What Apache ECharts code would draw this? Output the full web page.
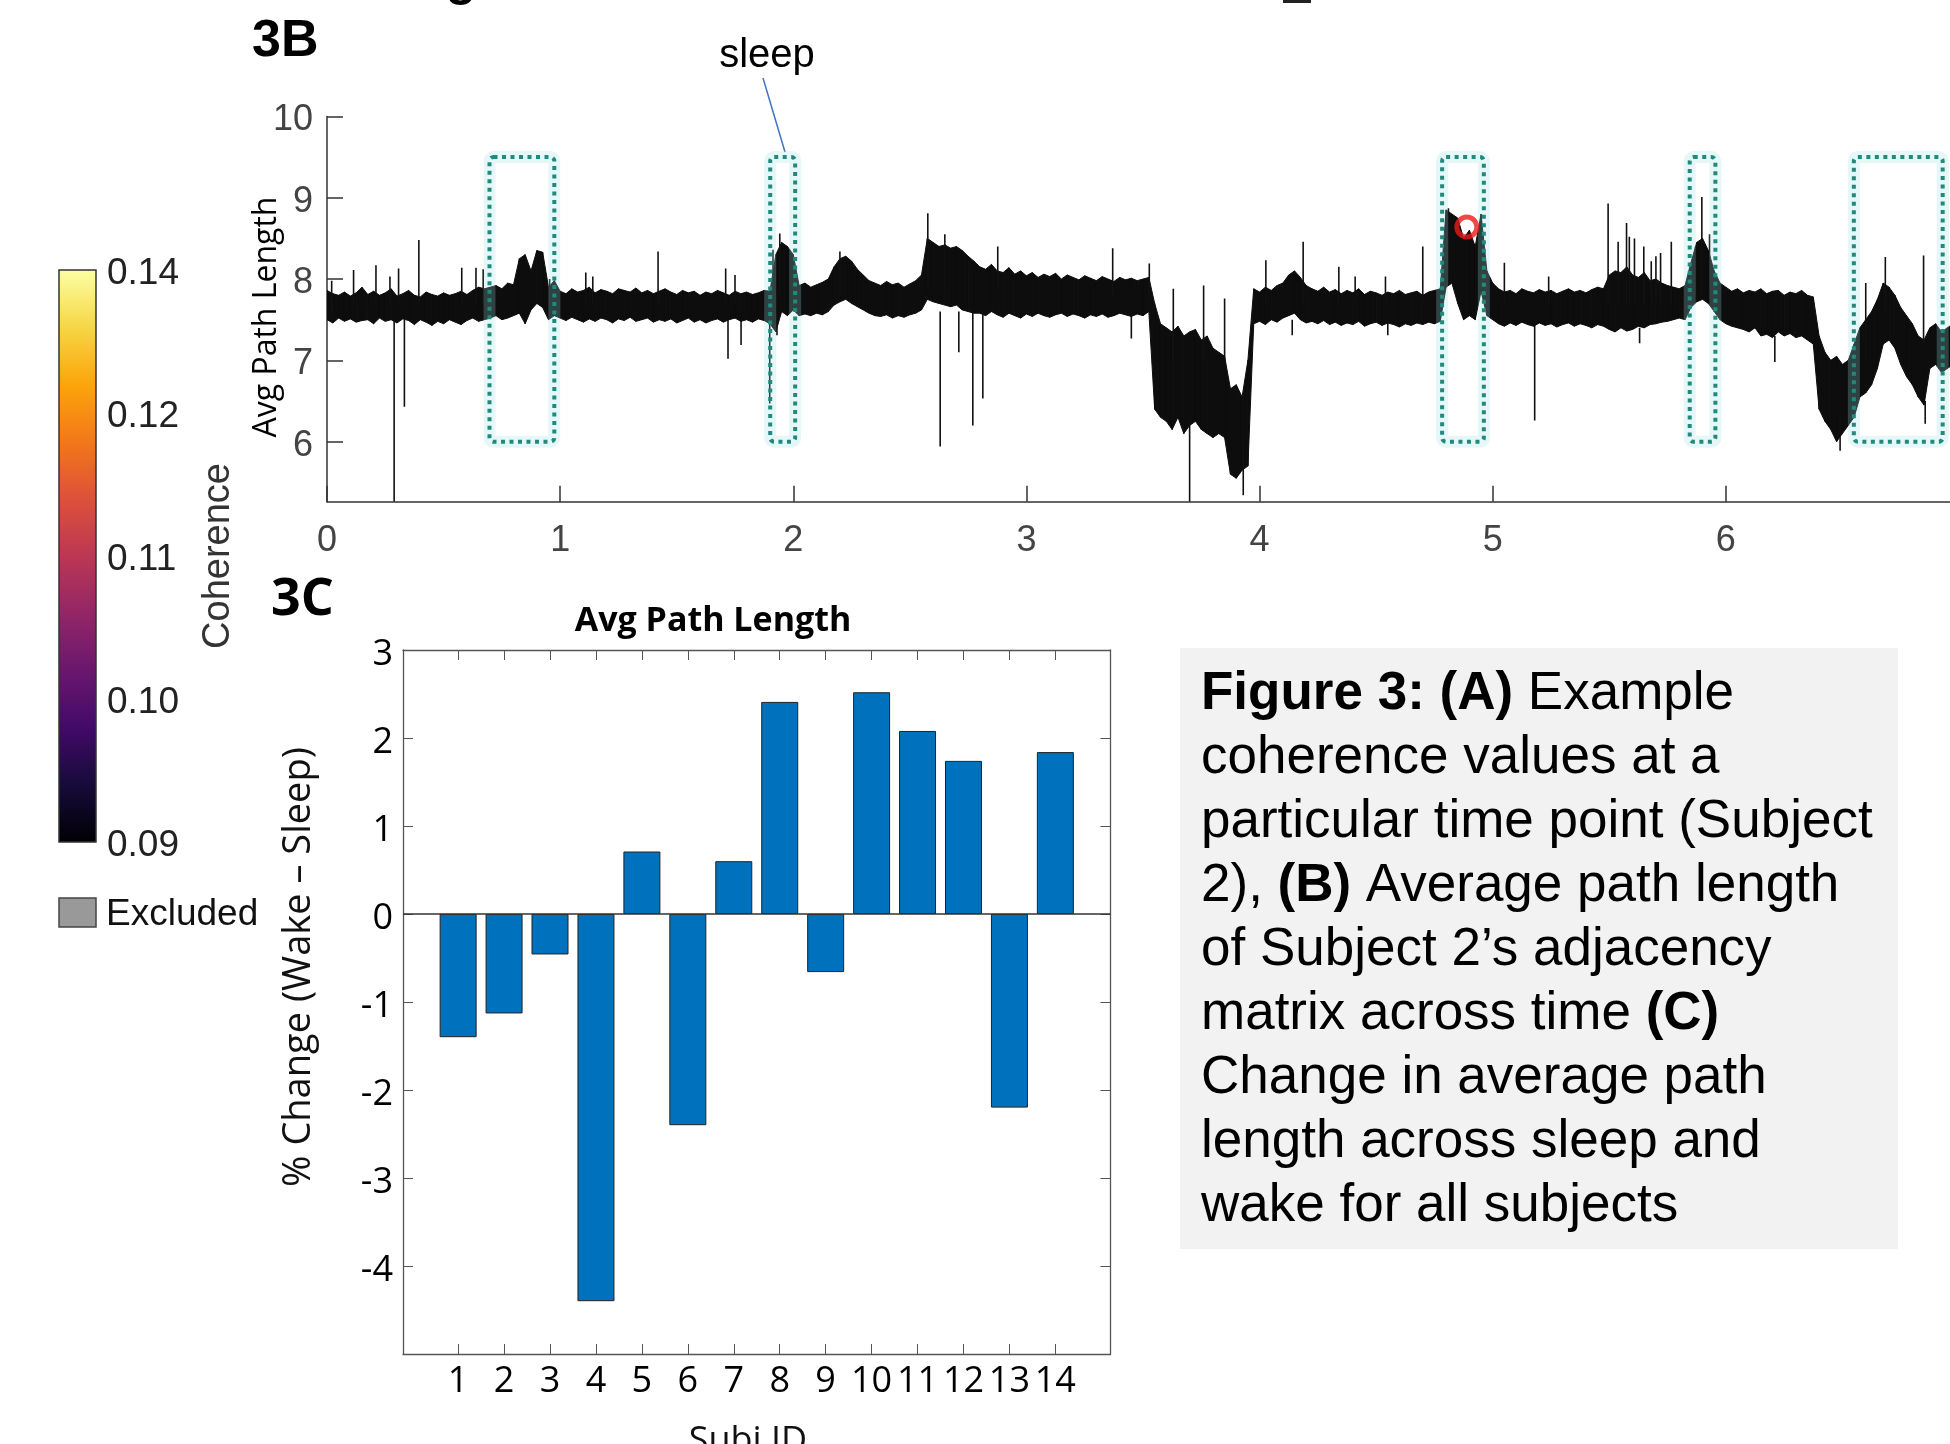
<!DOCTYPE html>
<html>
<head>
<meta charset="utf-8">
<script src="https://cdn.jsdelivr.net/npm/echarts@6/dist/echarts.min.js"></script>
<style>
  html, body { margin: 0; padding: 0; background: #fff; }
  #chart { width: 1950px; height: 1444px; }
</style>
</head>
<body>
<div id="chart"></div>
<script>
// ---- 3B: avg path length over time (band, step 0.025) ----
const traceStart = 0;
const traceStep = 0.025;
const traceHigh = [
  7.86,7.82,7.80,7.84,7.79,7.83,7.90,7.81,7.85,7.80,7.83,7.88,7.79,7.82,7.86,7.80,7.78,7.84,7.81,7.79,7.83,7.80,7.82,7.85,7.81,7.86,7.90,7.88,
  7.90,7.92,7.88,7.95,7.93,8.25,8.30,8.10,8.35,8.33,7.90,7.98,
  7.85,7.82,7.88,7.84,7.86,7.90,7.83,7.87,7.85,7.82,7.88,7.86,7.84,7.89,7.83,7.86,7.82,7.85,7.88,7.84,7.81,7.86,7.83,7.85,7.80,7.84,7.82,7.86,7.83,7.80,7.85,7.82,7.84,7.81,7.83,7.86,
  7.85,8.30,8.45,8.40,8.30,
  7.92,7.95,7.90,7.93,7.96,8.00,
  8.15,8.25,8.28,8.22,8.12,8.05,
  7.98,7.95,7.92,7.97,7.93,7.95,7.90,7.94,7.98,8.05,
  8.50,8.45,8.40,8.42,8.38,8.40,8.35,8.28,8.22,
  8.15,8.12,8.18,8.10,8.08,8.14,8.06,8.10,8.04,8.08,8.02,8.06,8.03,8.07,8.00,8.05,8.02,7.99,8.04,8.01,7.98,8.03,8.00,7.97,8.02,7.99,8.01,7.98,8.00,8.02,
  7.70,7.45,7.40,7.35,7.42,7.30,7.35,7.38,7.25,7.30,7.15,7.10,7.05,6.65,6.70,6.55,
  7.00,
  7.88,7.84,7.90,7.86,7.92,7.95,8.05,8.10,8.02,7.92,7.88,7.85,7.90,7.84,7.87,7.82,7.86,7.83,7.88,7.81,7.85,7.83,7.80,7.84,7.82,7.86,7.81,7.83,7.85,7.80,7.84,7.86,7.88,
  8.85,8.80,8.75,8.50,8.60,8.40,8.80,8.10,
  7.95,7.88,7.84,7.86,7.82,7.88,7.85,7.83,7.87,7.84,7.86,7.82,7.85,7.88,7.84,7.86,7.83,7.87,7.90,7.88,
  8.05,8.10,8.08,8.15,8.05,8.02,8.08,7.98,8.00,7.95,7.92,7.90,7.88,7.92,
  8.20,8.45,8.50,8.35,8.10,
  7.95,7.90,7.85,7.88,7.83,7.86,7.84,7.88,7.82,7.85,7.86,7.80,7.84,7.82,7.86,7.80,7.78,
  7.30,7.10,7.00,7.05,6.95,7.00,7.20,
  7.40,7.50,7.60,7.75,
  7.95,7.90,7.80,
  7.65,7.55,7.45,7.30,7.25,
  7.40,7.45,7.35,7.40,7.45
];
const traceLow = [
  7.50,7.46,7.52,7.48,7.51,7.47,7.49,7.50,7.45,7.52,7.48,7.50,7.46,7.51,7.49,7.44,7.50,7.47,7.43,7.48,7.45,7.50,7.47,7.44,7.49,7.52,7.48,7.50,
  7.52,7.55,7.50,7.52,7.55,7.58,7.45,7.62,7.70,7.65,7.50,7.55,
  7.52,7.49,7.53,7.50,7.47,7.51,7.48,7.52,7.50,7.46,7.51,7.49,7.53,7.48,7.50,7.52,7.47,7.50,7.48,7.51,7.46,7.49,7.52,7.47,7.50,7.46,7.49,7.51,7.47,7.50,7.52,7.48,7.50,7.47,7.51,7.49,
  7.45,7.35,7.60,7.55,7.62,
  7.55,7.57,7.55,7.58,7.56,7.60,
  7.68,7.72,7.75,7.70,7.66,7.62,
  7.58,7.55,7.54,7.56,7.52,7.55,7.53,7.56,7.58,7.62,
  7.75,7.72,7.70,7.68,7.66,7.68,7.62,7.60,7.58,
  7.58,7.55,7.60,7.56,7.53,7.58,7.55,7.52,7.57,7.54,7.58,7.55,7.53,7.56,7.58,7.54,7.57,7.55,7.52,7.56,7.54,7.57,7.53,7.55,7.58,7.56,7.54,7.57,7.55,7.60,
  6.40,6.30,6.25,6.15,6.30,6.10,6.20,6.25,6.15,6.10,6.05,6.10,6.05,5.60,5.55,5.65,
  5.70,
  7.45,7.48,7.44,7.50,7.47,7.52,7.55,7.58,7.50,7.46,7.48,7.45,7.49,7.44,7.47,7.43,7.46,7.44,7.48,7.42,7.45,7.47,7.43,7.46,7.44,7.41,7.45,7.43,7.46,7.44,7.47,7.45,7.48,
  7.90,7.95,7.70,7.50,7.55,7.50,7.85,7.55,
  7.50,7.45,7.42,7.46,7.43,7.47,7.44,7.42,7.46,7.43,7.45,7.41,7.44,7.46,7.42,7.45,7.43,7.40,7.44,7.42,
  7.38,7.35,7.40,7.36,7.38,7.42,7.40,7.44,7.45,7.47,7.48,7.50,7.52,7.50,
  7.65,7.72,7.75,7.70,7.60,
  7.50,7.45,7.42,7.40,7.38,7.35,7.40,7.30,7.32,7.28,7.35,7.30,7.33,7.28,7.30,7.25,7.20,
  6.40,6.25,6.15,6.00,6.10,6.20,6.30,
  6.55,6.60,6.70,6.90,
  7.20,7.25,7.15,
  6.95,6.80,6.70,6.55,6.45,
  6.90,6.95,6.85,6.90,6.95
];
// isolated excursions: time, low end, high end
const spikeTime = [0.02,0.114,0.21,0.27,0.307,0.394,0.578,0.639,0.67,0.955,1.11,1.14,1.42,1.71,1.75,1.913,1.942,2.2,2.577,2.65,2.877,3.37,3.527,3.63,3.76,3.85,4.027,4.187,4.34,4.41,4.54,4.70,4.81,5.05,5.24,5.495,5.538,5.574,5.586,5.608,5.648,5.68,5.70,5.72,5.766,5.87,5.897,5.93,6.60,6.684,6.848,
  0.288,0.332,1.72,1.776,1.899,1.93,2.63,2.71,2.77,2.813,3.45,3.70,3.93,4.14,4.55,5.18,5.63,6.21,6.49,6.855];
const spikeLow = [7.6,7.7,7.7,7.7,7.7,7.7,7.7,7.7,7.7,7.7,7.7,7.7,7.7,7.7,7.7,7.8,7.8,7.8,7.9,7.9,7.9,7.8,7.8,7.0,7.0,7.0,7.7,7.7,7.7,7.7,7.7,7.7,8.0,7.7,7.7,7.7,7.7,7.7,7.7,7.7,7.7,7.7,7.7,7.7,7.7,7.8,7.8,7.8,7.0,7.6,7.2,
  5.262,6.43,7.02,7.19,6.47,7.31,5.94,7.10,6.20,6.53,7.27,5.262,5.34,7.31,7.31,6.26,7.21,6.98,5.89,6.22];
const spikeHigh = [7.98,8.11,8.17,8.03,8.13,8.48,8.14,8.14,8.12,8.00,8.08,8.03,8.34,8.13,8.05,8.36,8.56,8.34,8.81,8.55,8.40,8.38,8.19,7.88,7.92,7.76,8.23,8.46,8.15,8.03,8.03,8.40,8.87,8.20,8.03,8.93,8.46,8.69,8.52,8.50,8.40,8.22,8.28,8.32,8.46,8.40,9.01,8.55,7.95,8.27,8.29,
  7.5,7.5,7.5,7.5,7.6,7.6,7.6,7.6,7.6,7.6,7.6,6.3,6.0,7.5,7.5,7.5,7.4,7.3,6.3,6.5];
const sleepStart = [0.697, 1.901, 4.783, 5.845, 6.549];
const sleepEnd   = [0.975, 2.008, 4.962, 5.955, 6.930];
const sleepBoxLow = 6.0;
const sleepBoxHigh = 9.5;
const markerTime = 4.889;
const markerValue = 8.64;
const timeTicks = [0, 1, 2, 3, 4, 5, 6, 7];
const pathTicks = [6, 7, 8, 9, 10];

// ---- 3C: % change per subject ----
const subjectIds = [1, 2, 3, 4, 5, 6, 7, 8, 9, 10, 11, 12, 13, 14];
const pctChange = [-1.40, -1.13, -0.46, -4.40, 0.71, -2.40, 0.60, 2.41, -0.66, 2.52, 2.08, 1.74, -2.20, 1.84];
const changeTicks = [-4, -3, -2, -1, 0, 1, 2, 3];

// ---- colour bar (panel A legend) ----
const colorbarLabels = ['0.14', '0.12', '0.11', '0.10', '0.09'];
const infernoStops = ['#fcffa4', '#f6d746', '#fca50a', '#f37819', '#dd513a', '#bc3754', '#932667', '#6a176e', '#420a68', '#160b39', '#000004'];

const captionText = '{b|Figure 3: (A)} Example\ncoherence values at a\nparticular time point (Subject\n2), {b|(B)} Average path length\nof Subject 2\u2019s adjacency\nmatrix across time {b|(C)}\nChange in average path\nlength across sleep and\nwake for all subjects';

const bandData = traceHigh.map((h, i) => [traceStart + i * traceStep, traceLow[i], h]);
const spikeData = spikeTime.map((t, i) => [t, spikeLow[i], spikeHigh[i]]);
const sleepData = sleepStart.map((s, i) => [s, sleepEnd[i], sleepBoxLow, sleepBoxHigh]);
const barData = subjectIds.map((s, i) => [s, pctChange[i]]);

const topFont = 'Liberation Sans, Arial, sans-serif';
const botFont = 'Open Sans, Noto Sans, sans-serif';

// colour bar geometry
const cbX = 59, cbY = 270, cbW = 37, cbH = 572;
const cbGraphics = [];
cbGraphics.push({
  type: 'rect',
  shape: { x: cbX, y: cbY, width: cbW, height: cbH },
  style: {
    fill: new echarts.graphic.LinearGradient(0, 0, 0, 1,
      infernoStops.map((c, i) => ({ offset: i / (infernoStops.length - 1), color: c }))),
    stroke: '#333', lineWidth: 1.5
  }
});
colorbarLabels.forEach((lab, i) => {
  cbGraphics.push({
    type: 'text',
    style: {
      x: 107, y: cbY + i * cbH / (colorbarLabels.length - 1) + 4, text: lab,
      font: '37px ' + topFont, fill: '#222', textAlign: 'left', textVerticalAlign: 'middle'
    }
  });
});

const myChart = echarts.init(document.getElementById('chart'));
myChart.setOption({
  animation: false,
  backgroundColor: '#fff',
  grid: [
    { left: 327, top: 116.4, width: 1632, height: 385.3, outerBoundsMode: 'none' },
    { left: 403, top: 650, width: 707.5, height: 704, outerBoundsMode: 'none' }
  ],
  xAxis: [
    {
      type: 'value', gridIndex: 0, min: 0, max: 7,
      axisLine: { onZero: false, lineStyle: { color: '#333', width: 1.5 } },
      axisTick: { inside: true, length: 16, customValues: timeTicks, lineStyle: { color: '#333', width: 1.5 } },
      axisLabel: { customValues: timeTicks, fontSize: 36, fontFamily: topFont, color: '#444', margin: 21 },
      splitLine: { show: false }
    },
    {
      type: 'value', gridIndex: 1, min: -0.2, max: 15.2, position: 'bottom',
      axisLine: { onZero: false, lineStyle: { color: '#555', width: 1.3 } },
      axisTick: { inside: true, length: 10, customValues: subjectIds, lineStyle: { color: '#555' } },
      axisLabel: { customValues: subjectIds, fontSize: 36, fontFamily: botFont, color: '#000', margin: 10 },
      splitLine: { show: false }
    },
    {
      type: 'value', gridIndex: 1, min: -0.2, max: 15.2, position: 'top',
      axisLine: { onZero: false, lineStyle: { color: '#555', width: 1.3 } },
      axisTick: { inside: true, length: 10, customValues: subjectIds, lineStyle: { color: '#555' } },
      axisLabel: { show: false },
      splitLine: { show: false }
    }
  ],
  yAxis: [
    {
      type: 'value', gridIndex: 0, min: 5.262, max: 10,
      axisLine: { show: true, onZero: false, lineStyle: { color: '#333', width: 1.5 } },
      axisTick: { show: true, inside: true, length: 16, customValues: pathTicks, lineStyle: { color: '#333', width: 1.5 } },
      axisLabel: { customValues: pathTicks, fontSize: 36, fontFamily: topFont, color: '#444', margin: 14, verticalAlign: 'top', lineHeight: 8 },
      splitLine: { show: false }
    },
    {
      type: 'value', gridIndex: 1, min: -5, max: 3, interval: 1, position: 'left',
      axisLine: { show: true, onZero: false, lineStyle: { color: '#555', width: 1.3 } },
      axisTick: { show: true, inside: true, length: 10, lineStyle: { color: '#555' } },
      axisLabel: { customValues: changeTicks, fontSize: 36, fontFamily: botFont, color: '#000', margin: 10, verticalAlign: 'top', lineHeight: 10 },
      splitLine: { show: false }
    },
    {
      type: 'value', gridIndex: 1, min: -5, max: 3, interval: 1, position: 'right',
      axisLine: { show: true, onZero: false, lineStyle: { color: '#555', width: 1.3 } },
      axisTick: { show: true, inside: true, length: 10, lineStyle: { color: '#555' } },
      axisLabel: { show: false },
      splitLine: { show: false }
    }
  ],
  series: [
    {
      // dense trace: filled between the upper and lower envelope of each step
      type: 'custom', xAxisIndex: 0, yAxisIndex: 0, clip: true, z: 2,
      data: bandData,
      renderItem(params, api) {
        const i = params.dataIndex;
        const next = bandData[i + 1];
        if (!next) return null;
        const cur = bandData[i];
        const pts = [
          api.coord([cur[0], cur[2]]),
          api.coord([next[0], next[2]]),
          api.coord([next[0], next[1]]),
          api.coord([cur[0], cur[1]])
        ];
        return {
          type: 'polygon',
          shape: { points: pts },
          style: { fill: '#0d0d0d', stroke: '#0d0d0d', lineWidth: 1 }
        };
      }
    },
    {
      type: 'custom', xAxisIndex: 0, yAxisIndex: 0, clip: true, z: 3,
      data: spikeData,
      renderItem(params, api) {
        const t = api.value(0);
        const a = api.coord([t, api.value(1)]);
        const b = api.coord([t, api.value(2)]);
        return {
          type: 'line',
          shape: { x1: a[0], y1: a[1], x2: b[0], y2: b[1] },
          style: { stroke: '#111', lineWidth: 1.6 }
        };
      }
    },
    {
      // sleep windows
      type: 'custom', xAxisIndex: 0, yAxisIndex: 0, clip: false, z: 4,
      data: sleepData,
      renderItem(params, api) {
        const p1 = api.coord([api.value(0), api.value(3)]);
        const p2 = api.coord([api.value(1), api.value(2)]);
        const shape = { x: p1[0], y: p1[1], width: p2[0] - p1[0], height: p2[1] - p1[1], r: 4 };
        return {
          type: 'group',
          children: [
            { type: 'rect', shape, style: { fill: 'none', stroke: 'rgba(150,225,225,0.25)', lineWidth: 12 } },
            { type: 'rect', shape, style: { fill: 'none', stroke: '#23897e', lineWidth: 4, lineDash: [4, 4.5] } }
          ]
        };
      }
    },
    {
      type: 'scatter', xAxisIndex: 0, yAxisIndex: 0, z: 5,
      data: [[markerTime, markerValue]],
      symbol: 'circle', symbolSize: 20,
      itemStyle: { color: 'rgba(0,0,0,0)', borderColor: '#ea1c1c', borderWidth: 5 }
    },
    {
      type: 'bar', xAxisIndex: 1, yAxisIndex: 1,
      data: barData, barWidth: 37,
      itemStyle: { color: '#0072bd', borderColor: '#222', borderWidth: 1 },
      markLine: {
        silent: true, symbol: 'none', label: { show: false },
        lineStyle: { color: '#333', width: 1.5, type: 'solid' },
        data: [{ yAxis: 0 }]
      }
    }
  ],
  graphic: [
    // cut-off fragments of the heading above the panel
    { type: 'text', style: { x: 461, y: 6, text: 'g', font: 'bold 50px ' + topFont, fill: '#000', textAlign: 'center', textVerticalAlign: 'bottom' } },
    { type: 'rect', shape: { x: 1283, y: 0, width: 28, height: 3 }, style: { fill: '#222' } },

    { type: 'text', style: { x: 252, y: 42, text: '3B', font: 'bold 52px ' + topFont, fill: '#000', textAlign: 'left', textVerticalAlign: 'middle' } },
    { type: 'text', style: { x: 767, y: 56, text: 'sleep', font: '40px ' + topFont, fill: '#000', textAlign: 'center', textVerticalAlign: 'middle' } },
    { type: 'line', shape: { x1: 763, y1: 78, x2: 785, y2: 152 }, style: { stroke: '#4472c4', lineWidth: 1.5 } },
    { type: 'text', rotation: Math.PI / 2, x: 267, y: 317, style: { x: 0, y: 0, text: 'Avg Path Length', font: '32px ' + botFont, fill: '#000', textAlign: 'center', textVerticalAlign: 'middle' } },

    ...cbGraphics,
    { type: 'text', rotation: Math.PI / 2, x: 219, y: 556, style: { x: 0, y: 0, text: 'Coherence', font: '38px ' + topFont, fill: '#333', textAlign: 'center', textVerticalAlign: 'middle' } },
    { type: 'rect', shape: { x: 59, y: 898, width: 37, height: 29 }, style: { fill: '#999', stroke: '#444', lineWidth: 1.5 } },
    { type: 'text', style: { x: 106, y: 915, text: 'Excluded', font: '37px ' + topFont, fill: '#111', textAlign: 'left', textVerticalAlign: 'middle' } },

    { type: 'text', style: { x: 271, y: 600, text: '3C', font: 'bold 52px ' + botFont, fill: '#000', textAlign: 'left', textVerticalAlign: 'middle' } },
    { type: 'text', style: { x: 713, y: 621, text: 'Avg Path Length', font: 'bold 34px ' + botFont, fill: '#000', textAlign: 'center', textVerticalAlign: 'middle' } },
    { type: 'text', rotation: Math.PI / 2, x: 299, y: 967, style: { x: 0, y: 0, text: '% Change (Wake \u2013 Sleep)', font: '38px ' + botFont, fill: '#111', textAlign: 'center', textVerticalAlign: 'middle' } },
    { type: 'text', style: { x: 748, y: 1442, text: 'Subj ID', font: '36px ' + botFont, fill: '#111', textAlign: 'center', textVerticalAlign: 'middle' } },

    { type: 'rect', shape: { x: 1180, y: 648, width: 718, height: 601 }, style: { fill: '#f2f2f2' } },
    {
      type: 'text',
      style: {
        x: 1201, y: 662, text: captionText,
        font: '53px ' + topFont, fill: '#000', lineHeight: 64,
        textAlign: 'left', textVerticalAlign: 'top',
        rich: { b: { fontWeight: 'bold', fontSize: 53, fontFamily: topFont, lineHeight: 64, fill: '#000' } }
      }
    }
  ]
});
</script>
</body>
</html>
